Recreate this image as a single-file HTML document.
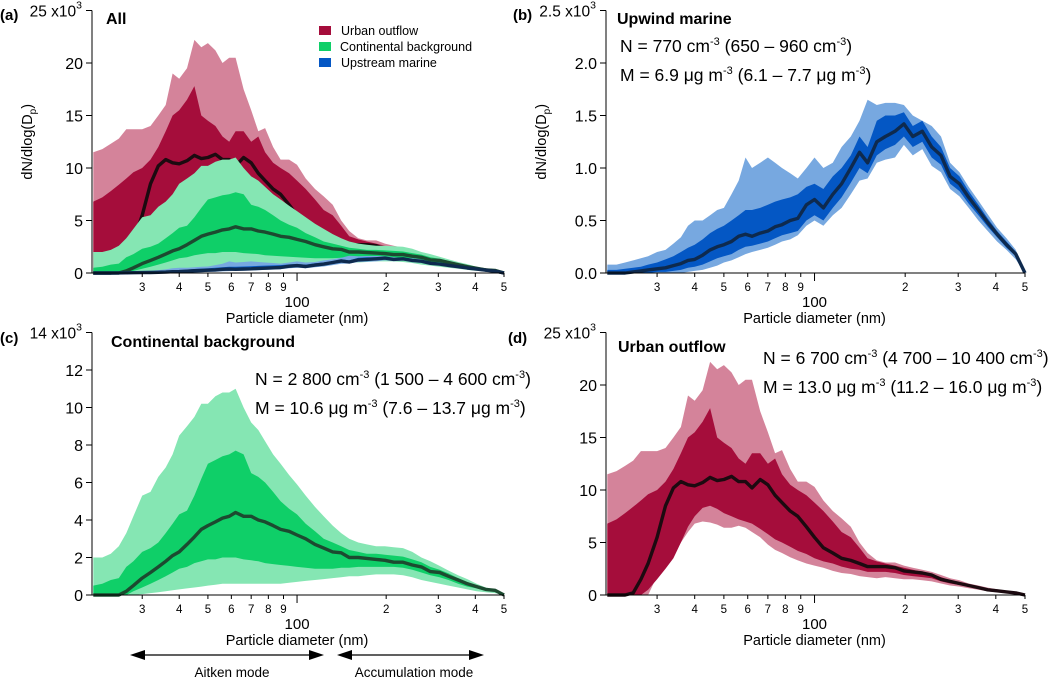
<!DOCTYPE html>
<html><head><meta charset="utf-8"><style>
body{margin:0;background:#fff;}
svg{display:block;font-family:"Liberation Sans",Arial,sans-serif;}
</style></head><body>
<svg id="fig" width="1052" height="679" viewBox="0 0 1052 679">
<g id="static">
  <text x="0" y="20" font-size="15" font-weight="bold">(a)</text>
  <text x="513" y="20" font-size="15" font-weight="bold">(b)</text>
  <text x="0" y="343" font-size="15" font-weight="bold">(c)</text>
  <text x="508" y="343" font-size="15" font-weight="bold">(d)</text>
  <text x="106" y="24" font-size="16" font-weight="bold">All</text>
  <text x="617" y="24" font-size="16" font-weight="bold">Upwind marine</text>
  <text x="111" y="347" font-size="16" font-weight="bold">Continental background</text>
  <text x="618" y="352" font-size="16" font-weight="bold">Urban outflow</text>
  <g>
    <rect x="319" y="26" width="12" height="9" fill="#a50d3b"/>
    <text x="341" y="35" font-size="12.5">Urban outflow</text>
    <rect x="319" y="42" width="12" height="9" fill="#0fcf68"/>
    <text x="340" y="51" font-size="12.5">Continental background</text>
    <rect x="319" y="58" width="12" height="9" fill="#0457c4"/>
    <text x="341" y="67" font-size="12.5">Upstream marine</text>
  </g>
  <g font-size="17.5">
    <text x="620" y="52">N = 770 cm<tspan dy="-7" font-size="11">-3</tspan><tspan dy="7"> (650 – 960 cm</tspan><tspan dy="-7" font-size="11">-3</tspan><tspan dy="7">)</tspan></text>
    <text x="620" y="81">M = 6.9 μg m<tspan dy="-7" font-size="11">-3</tspan><tspan dy="7"> (6.1 – 7.7 μg m</tspan><tspan dy="-7" font-size="11">-3</tspan><tspan dy="7">)</tspan></text>
  </g>
  <g font-size="17.5">
    <text x="255" y="385">N = 2 800 cm<tspan dy="-7" font-size="11">-3</tspan><tspan dy="7"> (1 500 – 4 600 cm</tspan><tspan dy="-7" font-size="11">-3</tspan><tspan dy="7">)</tspan></text>
    <text x="255" y="414">M = 10.6 μg m<tspan dy="-7" font-size="11">-3</tspan><tspan dy="7"> (7.6 – 13.7 μg m</tspan><tspan dy="-7" font-size="11">-3</tspan><tspan dy="7">)</tspan></text>
  </g>
  <g font-size="17.5">
    <text x="763" y="364">N = 6 700 cm<tspan dy="-7" font-size="11">-3</tspan><tspan dy="7"> (4 700 – 10 400 cm</tspan><tspan dy="-7" font-size="11">-3</tspan><tspan dy="7">)</tspan></text>
    <text x="763" y="393">M = 13.0 μg m<tspan dy="-7" font-size="11">-3</tspan><tspan dy="7"> (11.2 – 16.0 μg m</tspan><tspan dy="-7" font-size="11">-3</tspan><tspan dy="7">)</tspan></text>
  </g>
  <g>
    <line x1="138" y1="655" x2="316" y2="655" stroke="#000" stroke-width="1.3"/>
    <polygon points="130,655 145,650 145,660" fill="#000"/>
    <polygon points="324,655 309,650 309,660" fill="#000"/>
    <text x="232" y="677" font-size="13.5" text-anchor="middle">Aitken mode</text>
  </g>
  <g>
    <line x1="345" y1="655" x2="476" y2="655" stroke="#000" stroke-width="1.3"/>
    <polygon points="337,655 352,650 352,660" fill="#000"/>
    <polygon points="484,655 469,650 469,660" fill="#000"/>
    <text x="414" y="677" font-size="13.5" text-anchor="middle">Accumulation mode</text>
  </g>
</g>
<g id="plots"></g>
</svg>
<script>
const diam=[20.5,22,23.5,25,26.5,28,30,32,34,36,38,40,42.5,45,47.5,50,53,56,59,62,66,70,74,78,83,88,94,100,107,115,123,132,141,150,161,172,185,198,212,228,245,263,282,303,325,350,376,404,434,466,500];
// Urban outflow (x10^3)
const urbMed=[0,0,0,0.2,1.5,3,5.5,8.5,10.2,10.8,10.5,10.4,10.7,11.2,10.9,11,11.3,10.8,10.8,10.2,11,10.5,9.5,8.8,8,7.5,6.5,5.5,4.5,4,3.5,3.3,3,2.7,2.7,2.7,2.6,2.3,2.2,2.1,1.9,1.5,1.3,1.1,0.9,0.7,0.5,0.4,0.3,0.2,0];
const urbInHi=[6.8,7.2,7.8,8.4,9,9.6,10,10.8,12,13.5,15,15.5,16.5,17.8,15,14.5,14,13,12.5,13.5,13.5,12.5,13,11.5,10.5,10,9.5,8.8,8,7,6,5.5,4.5,3.5,3.2,3,2.8,2.6,2.4,2.2,2,1.7,1.4,1.2,1,0.8,0.6,0.5,0.35,0.25,0];
const urbInLo=[0,0,0,0,0,0.5,1.5,2.5,3.5,5,6.5,7.5,8.3,8.5,8.2,7.8,7.5,7.2,7,6.8,6.3,5.8,5.3,5,4.6,4.2,3.9,3.5,3.2,3,2.7,2.5,2.4,2.2,2.2,2.2,2.1,1.9,1.8,1.7,1.6,1.3,1.1,0.95,0.8,0.6,0.45,0.35,0.25,0.15,0];
const urbOutHi=[11.5,11.8,12.3,12.8,13.7,13.7,13.7,14,15,16,19,18.5,19.5,22.2,21.5,21.9,21.2,20,20.5,20.5,17.5,15.5,13.5,13.8,12,10.8,10.8,10.3,9,8,7.3,6.5,5,4,3.3,3.1,3.1,2.8,2.6,2.4,2.2,1.9,1.6,1.4,1.1,0.9,0.7,0.55,0.4,0.3,0];
const urbOutLo=[0,0,0,0,0,0,1.8,2.8,3.8,5,6,6.8,7,6.9,6.7,6.4,6.4,6.6,6.4,6,5.5,4.8,4.3,4,3.6,3.3,3,2.8,2.6,2.3,2.1,2,1.8,1.7,1.6,1.7,1.6,1.5,1.5,1.4,1.3,1.1,0.9,0.8,0.65,0.5,0.35,0.25,0.2,0.1,0];
// Continental background (x10^3)
const conMed=[0,0,0,0,0.2,0.5,0.9,1.2,1.5,1.8,2.1,2.3,2.7,3.1,3.5,3.7,3.9,4.1,4.2,4.4,4.2,4.2,4,3.9,3.7,3.5,3.4,3.2,3,2.7,2.5,2.3,2.25,2,2,1.95,1.9,1.85,1.75,1.75,1.6,1.5,1.25,1.2,1,0.8,0.6,0.45,0.3,0.25,0];
const conInHi=[0.5,0.6,0.8,0.9,1.5,1.8,2.3,2.5,2.8,3.3,3.8,4.3,4.5,5.3,6.2,7,7.2,7.4,7.5,7.7,7.5,6.5,6.3,6,5.5,5,4.6,4.3,3.8,3.4,3,2.8,2.6,2.4,2.3,2.2,2.2,2.15,2.1,2.05,1.9,1.75,1.5,1.35,1.15,0.9,0.7,0.5,0.35,0.28,0];
const conInLo=[0,0,0,0,0,0.2,0.4,0.6,0.8,1,1.2,1.4,1.5,1.7,1.8,1.9,1.9,2,2,2,1.9,1.85,1.8,1.7,1.65,1.6,1.55,1.5,1.45,1.4,1.4,1.4,1.45,1.45,1.5,1.5,1.5,1.5,1.5,1.45,1.35,1.2,1.05,0.95,0.8,0.6,0.45,0.35,0.22,0.18,0];
const conOutHi=[2,2,2.2,2.6,3.3,4.2,5.3,5.5,6.3,6.8,7.5,8.5,9,9.5,10.2,10.2,10.6,10.8,10.8,11,10,9.2,8.8,8.2,7.5,7,6.4,5.9,5.3,4.7,4.2,3.7,3.3,3,2.8,2.7,2.6,2.6,2.55,2.5,2.3,2,1.8,1.55,1.3,1.05,0.85,0.6,0.4,0.3,0];
const conOutLo=[0,0,0,0,0,0,0.05,0.1,0.15,0.2,0.25,0.3,0.35,0.4,0.45,0.5,0.55,0.6,0.6,0.6,0.6,0.6,0.6,0.6,0.6,0.6,0.65,0.7,0.75,0.8,0.85,0.9,0.95,1,1,1.05,1.1,1.1,1.1,1.05,0.95,0.8,0.7,0.6,0.5,0.4,0.3,0.2,0.15,0.1,0];
// Upwind marine (x10^3)
const marMed=[0,0,0,0.01,0.02,0.03,0.04,0.05,0.07,0.09,0.12,0.13,0.17,0.22,0.25,0.27,0.3,0.35,0.37,0.35,0.38,0.4,0.44,0.46,0.5,0.52,0.65,0.7,0.62,0.75,0.85,1,1.15,1.05,1.25,1.3,1.35,1.42,1.3,1.35,1.2,1.12,0.92,0.85,0.72,0.6,0.48,0.37,0.27,0.18,0];
const marInHi=[0.03,0.03,0.04,0.05,0.06,0.08,0.1,0.13,0.16,0.2,0.24,0.27,0.32,0.38,0.42,0.45,0.5,0.55,0.6,0.6,0.62,0.65,0.68,0.7,0.72,0.75,0.82,0.85,0.8,0.92,1,1.12,1.3,1.2,1.45,1.5,1.5,1.53,1.4,1.45,1.3,1.2,1,0.92,0.78,0.65,0.52,0.4,0.3,0.2,0];
const marInLo=[0,0,0,0,0,0,0.01,0.01,0.02,0.03,0.05,0.06,0.08,0.11,0.14,0.16,0.18,0.22,0.25,0.26,0.28,0.3,0.33,0.36,0.38,0.4,0.5,0.55,0.5,0.62,0.72,0.86,1,0.95,1.12,1.18,1.22,1.3,1.2,1.25,1.1,1.03,0.85,0.78,0.66,0.55,0.44,0.34,0.24,0.16,0];
const marOutHi=[0.08,0.08,0.1,0.12,0.14,0.16,0.2,0.22,0.28,0.34,0.45,0.5,0.5,0.55,0.6,0.62,0.75,0.88,1.1,1,1.05,1.1,1.05,1,0.95,0.9,1,1.1,1,1.05,1.2,1.3,1.45,1.65,1.6,1.62,1.62,1.6,1.5,1.45,1.4,1.3,1.05,0.96,0.82,0.69,0.56,0.43,0.33,0.22,0];
const marOutLo=[0,0,0,0,0,0,0,0,0,0,0.01,0.02,0.03,0.05,0.07,0.1,0.12,0.15,0.18,0.2,0.22,0.24,0.27,0.3,0.32,0.36,0.45,0.5,0.45,0.55,0.62,0.75,0.88,0.9,1.05,1.08,1.1,1.22,1.12,1.18,1.02,0.96,0.8,0.73,0.62,0.5,0.4,0.3,0.22,0.13,0];
const xTickVals=[30,40,50,60,70,80,90,100,200,300,400,500];
const xTickLabels=["3","4","5","6","7","8","9","","2","3","4","5"];
const yTicksA=[0,5,10,15,20,25], yTicksB=[0,0.5,1.0,1.5,2.0,2.5], yTicksC=[0,2,4,6,8,10,12,14];
const yTickLabelsB=["0.0","0.5","1.0","1.5","2.0","2.5"];

const NS="http://www.w3.org/2000/svg";
const root=document.getElementById('plots');
const C={uo:"#d4839a",ui:"#a50d3b",um:"#1c0a10",co:"#85e6b3",ci:"#0fcf68",cm:"#1c4a30",mo:"#77a8e0",mi:"#0457c4",mm:"#0e2a4e"};
function mk(tag,attrs,parent){const e=document.createElementNS(NS,tag);for(const k in attrs)e.setAttribute(k,attrs[k]);parent.appendChild(e);return e;}

function panel(id,x0,x1,y0,y1,ymax,yTicks,yLabels,topLabel,showYTitle){
  const g=mk('g',{},root);
  
  
  const lx=Math.log10(20.3),hx=Math.log10(500);
  const X=d=>x0+(Math.log10(d)-lx)/(hx-lx)*(x1-x0);
  const Y=v=>y1-v/ymax*(y1-y0);
  return {g,X,Y,x0,x1,y0,y1,yTicks,yLabels,topLabel,showYTitle,id};
}
function band(P,lo,hi,col,name){
  let d='M'+diam.map((v,i)=>P.X(v).toFixed(1)+','+P.Y(hi[i]).toFixed(1)).join('L');
  for(let i=diam.length-1;i>=0;i--)d+='L'+P.X(diam[i]).toFixed(1)+','+P.Y(lo[i]).toFixed(1);
  const p=mk('path',{d:d+'Z',fill:col},P.g);
  
  
}
function line(P,vals,col,name){
  const d='M'+diam.map((v,i)=>P.X(v).toFixed(1)+','+P.Y(vals[i]).toFixed(1)).join('L');
  const p=mk('path',{d:d,fill:'none',stroke:col,'stroke-width':3.4,'stroke-linejoin':'round'},P.g);
  
  
}
function axes(P){
  const a=mk('g',{stroke:'#000','stroke-width':1},P.g);
  
  
  mk('line',{x1:P.x0,y1:P.y0,x2:P.x0,y2:P.y1},a);
  mk('line',{x1:P.x0,y1:P.y1,x2:P.x1,y2:P.y1},a);
  P.yTicks.forEach((t,i)=>{
    const y=P.Y(t);
    mk('line',{x1:P.x0-6,y1:y,x2:P.x0,y2:y},a);
    if(i===P.yTicks.length-1){
      const tx=mk('text',{x:P.x0-10,y:y+6,'font-size':15.5,'text-anchor':'end',stroke:'none'},P.g);
      tx.innerHTML=P.topLabel+' x10<tspan dy="-8" font-size="10.5">3</tspan>';
      
      
    } else {
      const tx=mk('text',{x:P.x0-9,y:y+6,'font-size':16,'text-anchor':'end'},P.g);
      tx.textContent=P.yLabels?P.yLabels[i]:String(t);
      
      
    }
  });
  xTickVals.forEach((t,i)=>{
    const x=P.X(t);
    mk('line',{x1:x,y1:P.y1,x2:x,y2:P.y1+(t===100?8:4)},a);
    if(xTickLabels[i]){
      const tx=mk('text',{x:x,y:P.y1+18,'font-size':11.5,'text-anchor':'middle'},P.g);
      tx.textContent=xTickLabels[i];
      
      
    }
  });
  const h=mk('text',{x:P.X(100),y:P.y1+34,'font-size':15,'text-anchor':'middle'},P.g);
  h.textContent='100';
  
  
  const xt=mk('text',{x:P.X(100),y:P.y1+50,'font-size':14.5,'text-anchor':'middle'},P.g);
  xt.textContent='Particle diameter (nm)';
  
  
  if(P.showYTitle){
    const cy=(P.y0+P.y1)/2;
    const yt=mk('text',{x:0,y:0,'font-size':14.5,'text-anchor':'middle',transform:`translate(${P.x0-60},${cy}) rotate(-90)`},P.g);
    yt.innerHTML='dN/dlog(D<tspan dy="4" font-size="10">p</tspan><tspan dy="-4">)</tspan>';
    
    
  }
}

const A=panel('a',92,504,10.5,273,25,yTicksA,null,'25',true);
band(A,urbOutLo,urbOutHi,C.uo,'urban-outer-band');band(A,urbInLo,urbInHi,C.ui,'urban-inner-band');line(A,urbMed,C.um,'urban-median-line');
band(A,conOutLo,conOutHi,C.co,'continental-outer-band');band(A,conInLo,conInHi,C.ci,'continental-inner-band');line(A,conMed,C.cm,'continental-median-line');
band(A,marOutLo,marOutHi,C.mo,'marine-outer-band');band(A,marInLo,marInHi,C.mi,'marine-inner-band');line(A,marMed,C.mm,'marine-median-line');
axes(A);

const B=panel('b',606,1025,10.5,273,2.5,yTicksB,yTickLabelsB,'2.5',true);
band(B,marOutLo,marOutHi,C.mo,'marine-outer-band');band(B,marInLo,marInHi,C.mi,'marine-inner-band');line(B,marMed,C.mm,'marine-median-line');
axes(B);

const Cc=panel('c',92,504,332.5,595,14,yTicksC,null,'14',false);
band(Cc,conOutLo,conOutHi,C.co,'continental-outer-band');band(Cc,conInLo,conInHi,C.ci,'continental-inner-band');line(Cc,conMed,C.cm,'continental-median-line');
axes(Cc);

const D=panel('d',606,1025,332.5,595,25,yTicksA,null,'25',false);
band(D,urbOutLo,urbOutHi,C.uo,'urban-outer-band');band(D,urbInLo,urbInHi,C.ui,'urban-inner-band');line(D,urbMed,C.um,'urban-median-line');
axes(D);
</script>
</body></html>
